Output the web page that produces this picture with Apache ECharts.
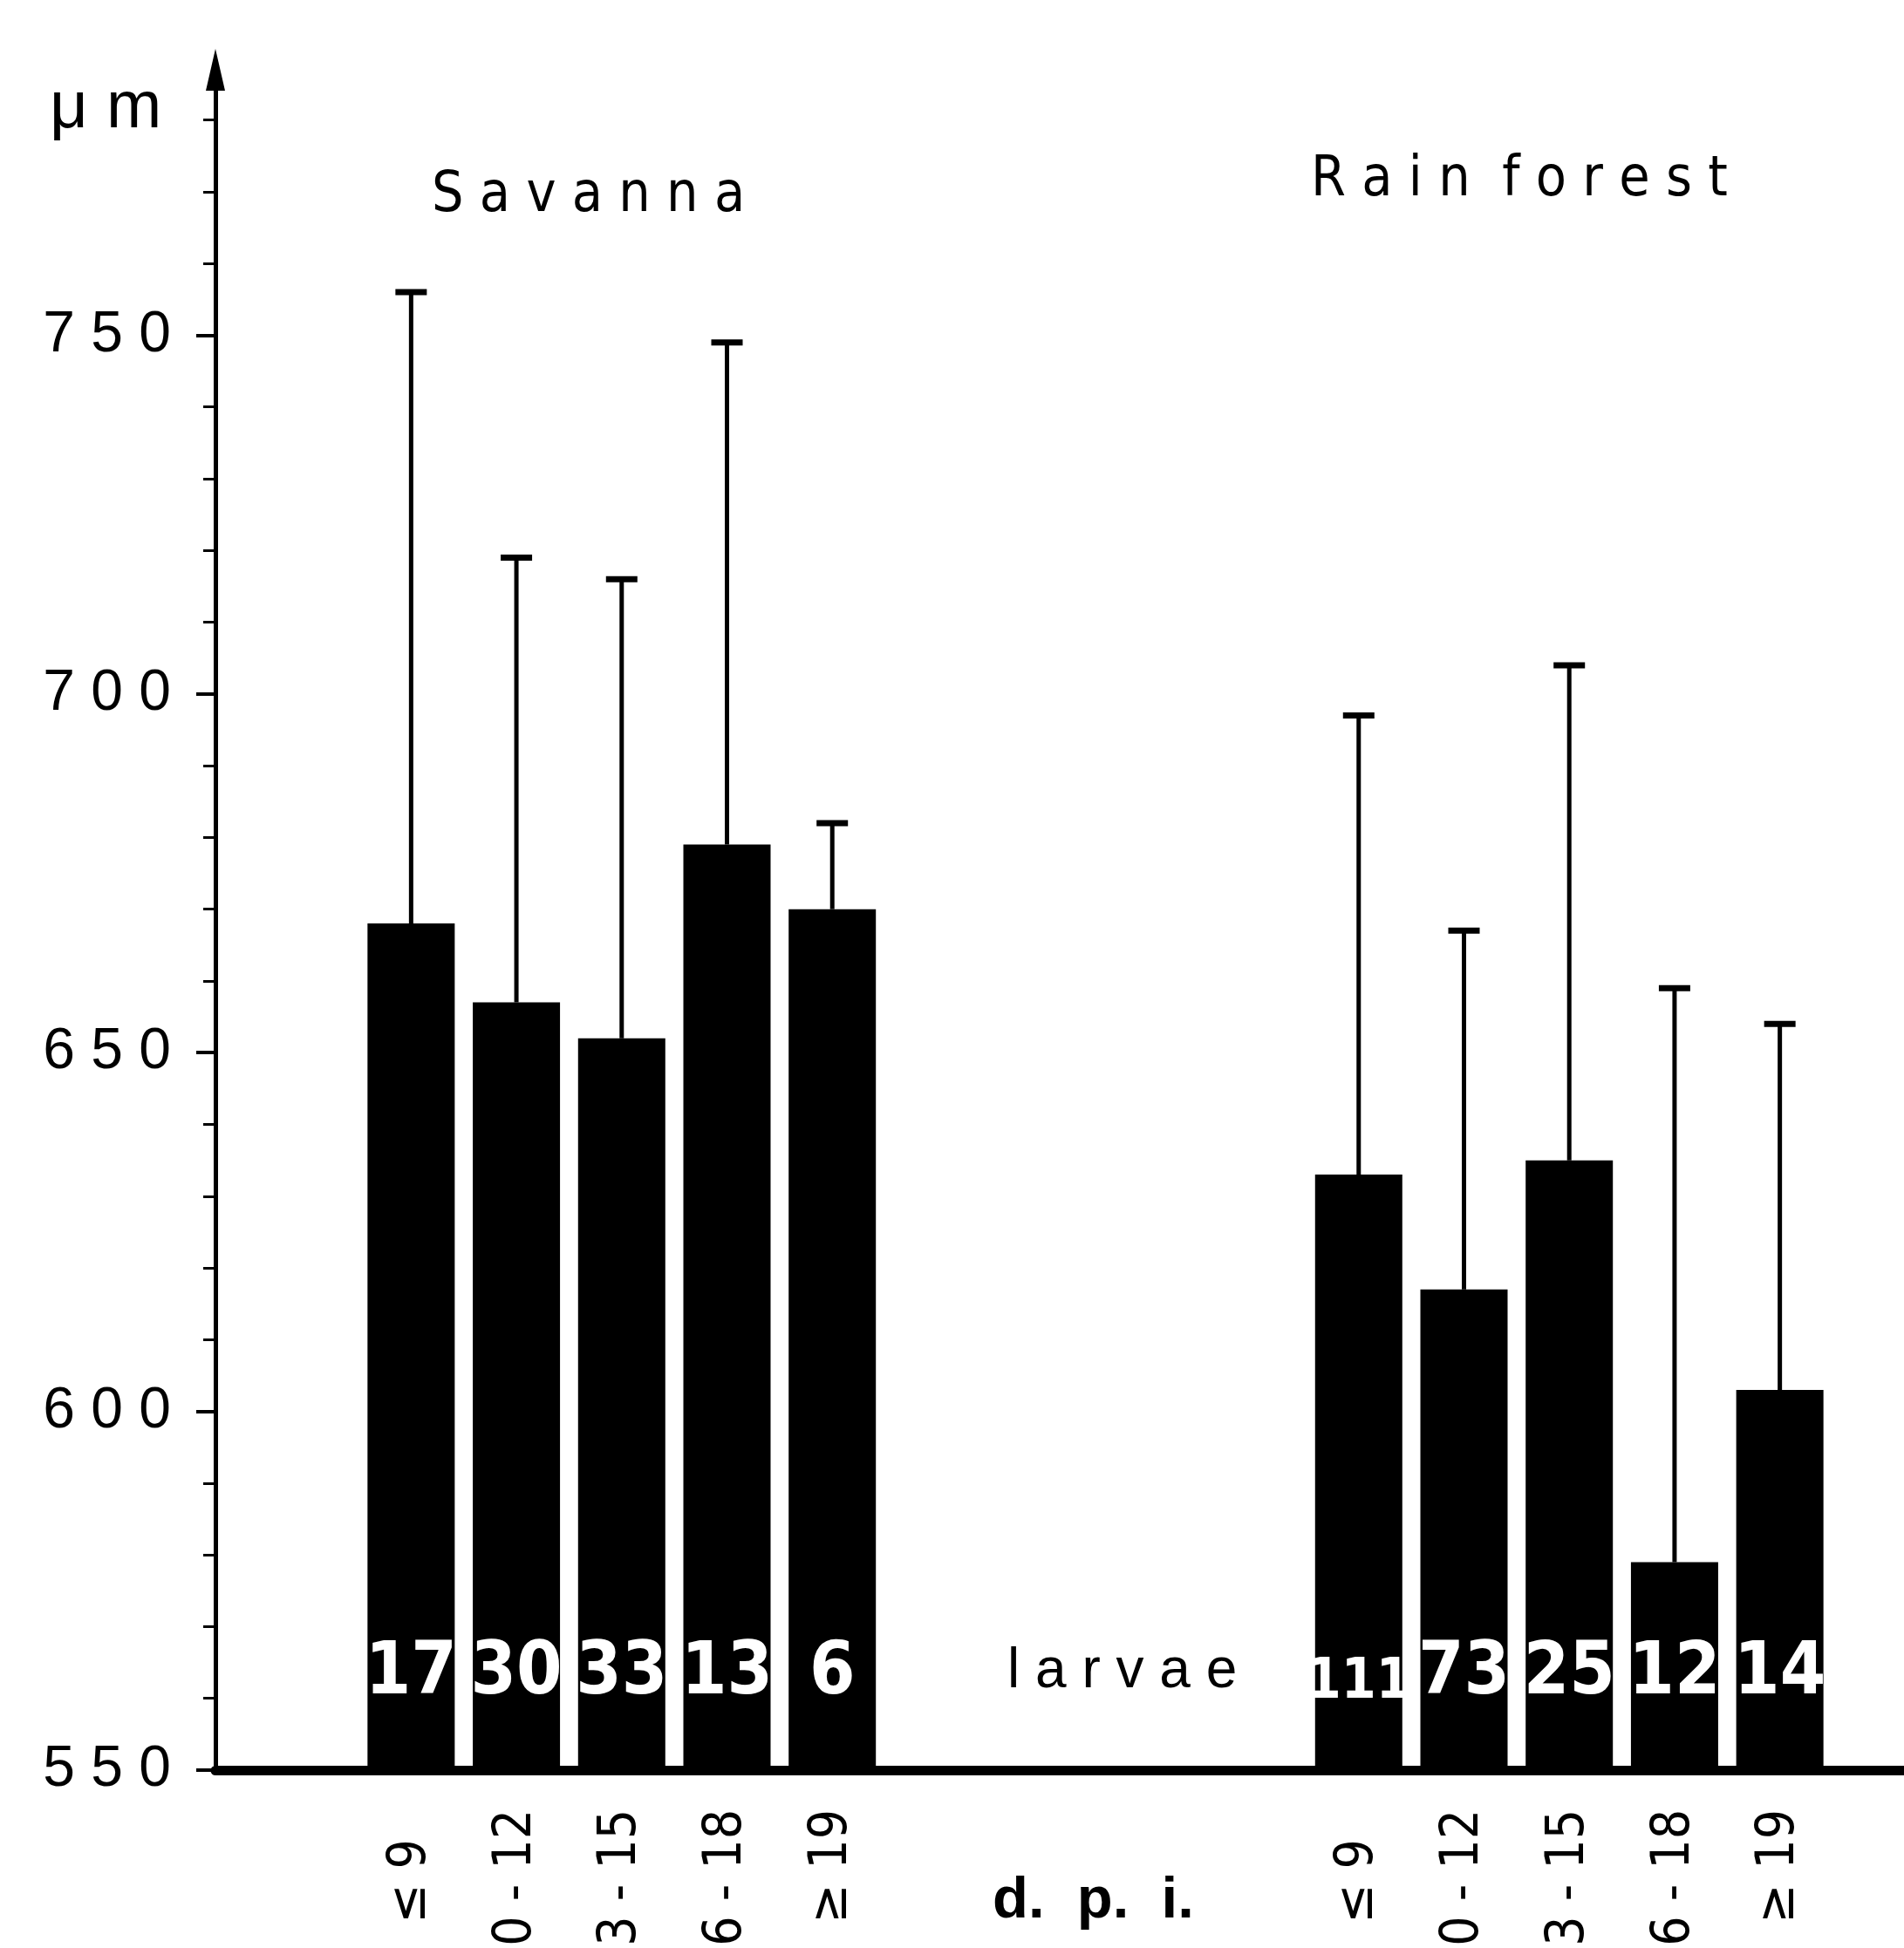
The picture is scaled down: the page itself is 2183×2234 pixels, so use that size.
<!DOCTYPE html>
<html>
<head>
<meta charset="utf-8">
<script src="https://cdn.jsdelivr.net/npm/echarts@6/dist/echarts.min.js"></script>
<style>
html,body{margin:0;padding:0;background:#fff;}
#chart{width:2183px;height:2234px;}
</style>
</head>
<body>
<div id="chart"></div>
<script>
// ---- data ----
const dpiLabels = ['≤ 9  ', '10 - 12', '13 - 15', '16 - 18', '≥ 19'];
const savannaMean  = [668, 657, 652, 679, 670];
const savannaUpper = [756, 719, 716, 749, 682];
const savannaN     = [17, 30, 33, 13, 6];
const rainMean     = [633, 617, 635, 579, 603];
const rainUpper    = [697, 667, 704, 659, 654];
const rainN        = [111, 73, 25, 12, 14];
const yTicks = [550, 600, 650, 700, 750];
const gapSlots = 4;

// ---- build category layout: savanna, gap, rain forest ----
const blanks = new Array(gapSlots).fill(null);
const catLabels = dpiLabels.concat(blanks.map(() => ''), dpiLabels);
const cats = catLabels.map((_, i) => 'c' + i);
const means = savannaMean.concat(blanks, rainMean);
const uppers = savannaUpper.concat(blanks, rainUpper);
const counts = savannaN.concat(blanks, rainN);

const barData = means.map(v => v == null ? '-' : v);
const errData = [];
means.forEach((m, i) => { if (m != null) errData.push([i, m, uppers[i]]); });

const YMIN = 550, YMAX = 787;
const FONT = "'Liberation Sans', Arial, sans-serif";
const NARROW = "'Liberation Sans Narrow', 'DejaVu Sans Condensed', 'Liberation Sans', sans-serif";

const chart = echarts.init(document.getElementById('chart'), null, {renderer: 'canvas'});
chart.setOption({
  backgroundColor: '#fff',
  animation: false,
  title: [
    {text: 'μ m', left: 52, top: 82, textStyle: {fontFamily: FONT, fontSize: 76, fontWeight: 'normal', color: '#000'}},
    {text: 'S a v a n n a', left: 490, top: 188, textStyle: {fontFamily: NARROW, fontSize: 64, fontWeight: 'normal', color: '#000'}},
    {text: 'R a i n  f o r e s t', left: 1498, top: 170, textStyle: {fontFamily: NARROW, fontSize: 64, fontWeight: 'normal', color: '#000'}},
    {text: 'l a r v a e', left: 1150, top: 1880, textStyle: {fontFamily: FONT, fontSize: 64, fontWeight: 'normal', color: '#000'}},
    {text: 'd.  p.  i.', left: 1133, top: 2142, textStyle: {fontFamily: FONT, fontSize: 67, fontWeight: 'bold', color: '#000'}}
  ],
  grid: [
    {left: 411, right: 82, top: 80, bottom: 204, containLabel: false, outerBoundsMode: 'none'},
    {left: 247, right: 0, top: 80, bottom: 204, containLabel: false, outerBoundsMode: 'none'}
  ],
  xAxis: [
    {
      gridIndex: 0, type: 'category', data: cats,
      axisLine: {show: false}, axisTick: {show: false},
      axisLabel: {
        interval: 0, rotate: 90, margin: 45,
        fontFamily: NARROW, fontSize: 60, color: '#000',
        formatter: (v, i) => catLabels[i]
      },
      splitLine: {show: false}
    },
    {
      gridIndex: 1, type: 'value', min: 0, max: 1,
      axisLine: {show: true, onZero: false, lineStyle: {color: '#000', width: 11}},
      axisTick: {show: false}, axisLabel: {show: false}, splitLine: {show: false}
    }
  ],
  yAxis: [
    {gridIndex: 0, type: 'value', min: YMIN, max: YMAX, show: false, splitLine: {show: false}},
    {
      gridIndex: 1, type: 'value', min: YMIN, max: YMAX, interval: 50,
      axisLine: {show: true, onZero: false, lineStyle: {color: '#000', width: 5},
                 symbol: ['none', 'triangle'], symbolSize: [22, 48]},
      axisTick: {show: true, length: 22, lineStyle: {color: '#000', width: 4}, customValues: yTicks},
      minorTick: {show: true, splitNumber: 5, length: 14, lineStyle: {color: '#000', width: 3}},
      axisLabel: {
        customValues: yTicks, margin: 51, color: '#000',
        fontFamily: FONT, fontSize: 66,
        formatter: v => String(v).split('').join(' ')
      },
      splitLine: {show: false}, minorSplitLine: {show: false}
    }
  ],
  series: [
    {
      type: 'bar', xAxisIndex: 0, yAxisIndex: 0,
      data: barData, barWidth: 100,
      itemStyle: {color: '#000'},
      label: {
        show: true, position: 'insideBottom', distance: 68,
        color: '#fff', fontFamily: NARROW, fontSize: 84, fontWeight: 'bold',
        formatter: p => {
          const n = counts[p.dataIndex];
          if (n == null) return '';
          const s = String(n);
          return s.length > 2 ? '{w|' + s + '}' : '{n|' + s + '}';
        },
        rich: {
          n: {color: '#fff', fontFamily: NARROW, fontSize: 84, fontWeight: 'bold'},
          w: {color: '#fff', fontFamily: NARROW, fontSize: 64, fontWeight: 'bold', padding: [12, 0, 0, 0]}
        }
      },
      z: 2
    },
    {
      type: 'custom', xAxisIndex: 0, yAxisIndex: 0,
      data: errData,
      renderItem: function (params, api) {
        const x = api.value(0);
        const base = api.coord([x, api.value(1)]);
        const top = api.coord([x, api.value(2)]);
        const half = 18;
        return {
          type: 'group',
          children: [
            {type: 'line', shape: {x1: base[0], y1: base[1], x2: top[0], y2: top[1]},
             style: {stroke: '#000', lineWidth: 5}},
            {type: 'line', shape: {x1: top[0] - half, y1: top[1], x2: top[0] + half, y2: top[1]},
             style: {stroke: '#000', lineWidth: 7}}
          ]
        };
      },
      z: 3
    }
  ]
});
</script>
</body>
</html>
